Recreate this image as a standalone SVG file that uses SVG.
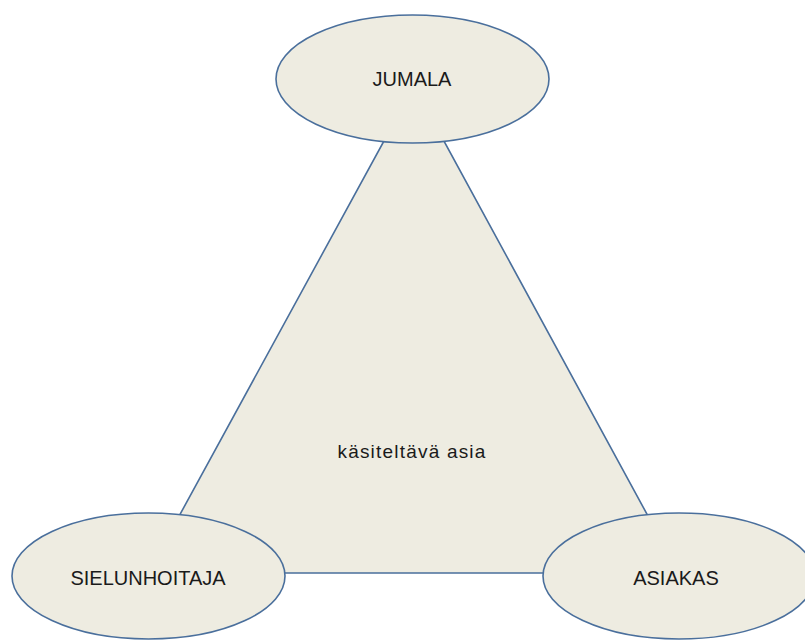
<svg xmlns="http://www.w3.org/2000/svg" width="805" height="640" viewBox="0 0 805 640">
<style>
.shape{fill:#EEECE1;stroke:#4A6F9C;stroke-width:1.6}
.lbl{font-family:"Liberation Sans",Arial,sans-serif;font-size:20px;fill:#1a1a1a;text-anchor:middle}
.mid{font-family:"Liberation Sans",Arial,sans-serif;font-size:19px;fill:#1a1a1a;text-anchor:middle;letter-spacing:1.2px}
</style>
<rect width="805" height="640" fill="#ffffff"/>
<g id="connectors">
<polygon class="shape" points="414,86 148,573 679,573"/>
</g>
<g id="center-label">
<text class="mid" x="412" y="458">käsiteltävä asia</text>
</g>
<g id="jumala">
<ellipse class="shape" cx="412.5" cy="79" rx="136.5" ry="64"/>
<text class="lbl" x="412" y="86">JUMALA</text>
</g>
<g id="sielunhoitaja">
<ellipse class="shape" cx="148.5" cy="576" rx="136.5" ry="63"/>
<text class="lbl" x="148" y="585">SIELUNHOITAJA</text>
</g>
<g id="asiakas">
<ellipse class="shape" cx="679" cy="576" rx="136" ry="63"/>
<text class="lbl" x="676" y="585">ASIAKAS</text>
</g>
</svg>
